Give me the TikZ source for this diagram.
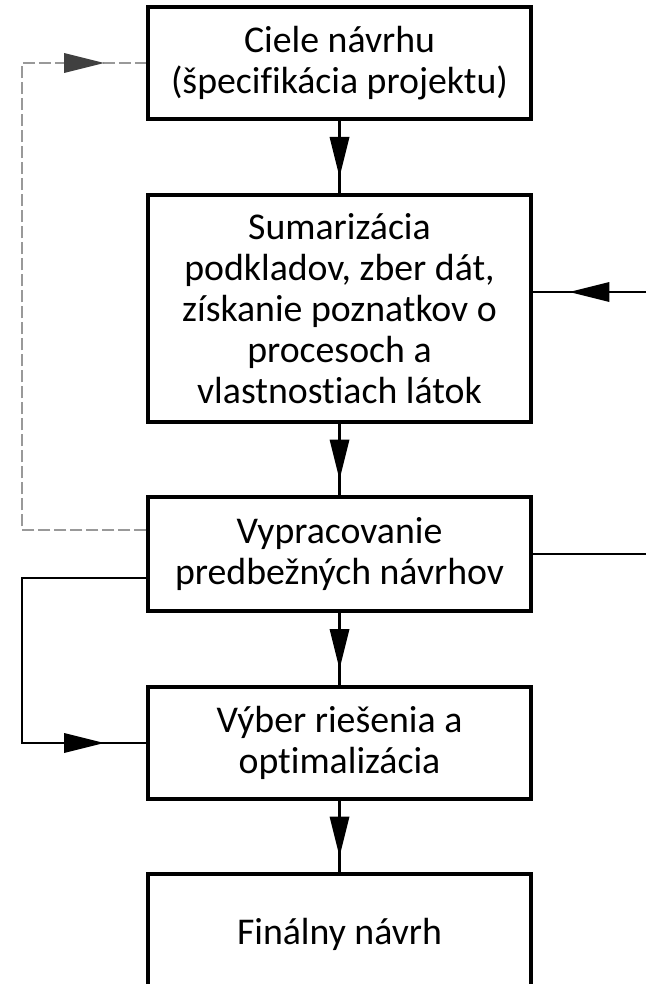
\documentclass[tikz,border=0pt]{standalone}
\usepackage{fontspec}
\setmainfont{Carlito}[Ligatures=NoCommon]
\usetikzlibrary{decorations.markings}

\begin{document}
\begin{tikzpicture}[x=1pt,y=-1pt,
    box/.style={draw,line width=3.5pt,fill=white,minimum width=383pt,inner sep=0pt,align=center,font=\fontsize{37.8}{41}\selectfont},
    conn/.style={line width=2.6pt},
    dashline/.style={draw=gray!80,line width=1.3pt,dash pattern=on 12pt off 4pt},
    midarrow/.style={postaction={decorate},decoration={markings,mark=at position 0.5 with {\fill[#1] (20,0) -- (-20,10) -- (-20,-10) -- cycle;}}},
    midarrow/.default=black]
            \useasboundingbox (0,0) rectangle (646,984);
            \clip (0,0) rectangle (646,984);

            \node (b1) at (339.5,63) [box,minimum height=112pt] {Ciele návrhu\\(špecifikácia projektu)};
            \node (b2) at (339.5,308.5) [box,minimum height=227pt] {Sumarizácia\\podkladov, zber dát,\\získanie poznatkov o\\procesoch a\\vlastnostiach látok};
            \node (b3) at (339.5,554) [box,minimum height=114pt] {Vypracovanie\\predbežných návrhov};
            \node (b4) at (339.5,743) [box,minimum height=112pt] {Výber riešenia a\\optimalizácia};
            \node (b5) at (339.5,934) [box,minimum height=120pt] {Finálny návrh};

            \coordinate (dA) at (22,530);
            \coordinate (lB) at (22,578);
            \coordinate (rIn) at (646,292);
            \coordinate (rOut) at (646,554);

            % main flow
            \draw[conn,midarrow] (b1) -- (b2);
            \draw[conn,midarrow] (b2) -- (b3);
            \draw[conn,midarrow] (b3) -- (b4);
            \draw[conn,midarrow] (b4) -- (b5);

            % right side
            \draw[conn] (b3) -- (rOut);
            \draw[conn,midarrow] (rIn) -- (rIn -| b2.east);

            % feedback loops on the left
            \draw[dashline] (dA -| b3.west) -- (dA) |- (b1.west);
            \path[midarrow=black!75] (dA |- b1.west) -- (b1.west);
            \draw[conn] (lB -| b3.west) -- (lB) |- (b4.west);
            \path[midarrow] (lB |- b4.west) -- (b4.west);
\end{tikzpicture}
\end{document}
